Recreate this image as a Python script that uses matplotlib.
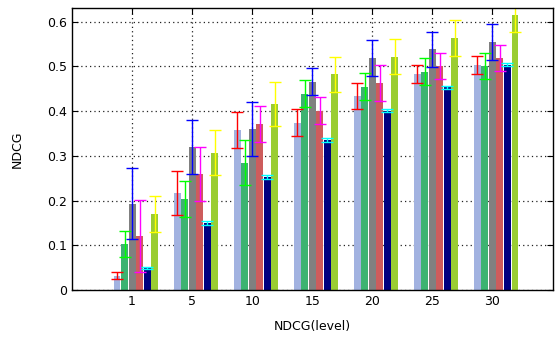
import numpy as np
import matplotlib
matplotlib.use('Agg')
import matplotlib.pyplot as plt

# NDCG at each cut-off level, six methods
levels = ['1', '5', '10', '15', '20', '25', '30']

ndcg_a = [0.032, 0.217, 0.358, 0.374, 0.434, 0.484, 0.504]
ndcg_b = [0.103, 0.204, 0.285, 0.439, 0.455, 0.488, 0.501]
ndcg_c = [0.193, 0.320, 0.360, 0.466, 0.519, 0.538, 0.555]
ndcg_d = [0.121, 0.260, 0.372, 0.401, 0.463, 0.501, 0.519]
ndcg_e = [0.049, 0.150, 0.253, 0.335, 0.401, 0.453, 0.504]
ndcg_f = [0.170, 0.307, 0.416, 0.482, 0.522, 0.564, 0.616]

err_a = [0.008, 0.050, 0.040, 0.030, 0.030, 0.020, 0.020]
err_b = [0.030, 0.040, 0.050, 0.030, 0.030, 0.030, 0.030]
err_c = [0.080, 0.060, 0.060, 0.030, 0.040, 0.040, 0.040]
err_d = [0.080, 0.060, 0.040, 0.030, 0.040, 0.030, 0.030]
err_e = [0.002, 0.005, 0.005, 0.005, 0.004, 0.004, 0.004]
err_f = [0.040, 0.050, 0.050, 0.040, 0.040, 0.040, 0.040]

series = [ndcg_a, ndcg_b, ndcg_c, ndcg_d, ndcg_e, ndcg_f]
errors = [err_a, err_b, err_c, err_d, err_e, err_f]
bar_colors = ['#a2b2e0', '#3cb371', '#808080', '#cd5c5c', '#000080', '#9acd32']
err_colors = ['#ff0000', '#00ff00', '#0000ff', '#ff00ff', '#00ffff', '#ffff00']

plt.rcParams['font.family'] = 'DejaVu Sans'
fig = plt.figure(figsize=(5.55, 3.4), dpi=100)
ax = fig.add_axes([0.1297, 0.147, 0.8658, 0.8286])

x = np.arange(len(levels))
slot = 1.0 / 8
for i, (vals, errs) in enumerate(zip(series, errors)):
    pos = x + (i - 2) * slot
    ax.bar(pos, vals, width=slot * 0.92, color=bar_colors[i], zorder=2)
    ax.errorbar(pos, vals, yerr=errs, fmt='none', ecolor=err_colors[i],
                elinewidth=1.0, capsize=4.5, capthick=1.0, zorder=3)

ax.set_xlim(-1, 7)
ax.set_ylim(0, 0.63)
ax.set_xticks(x)
ax.set_xticklabels(levels)
yt = [0, 0.1, 0.2, 0.3, 0.4, 0.5, 0.6]
ax.set_yticks(yt)
ax.set_yticklabels(['0', '0.1', '0.2', '0.3', '0.4', '0.5', '0.6'])
ax.tick_params(direction='in', length=4, width=0.8, labelsize=9,
               top=True, right=True, colors='black')
ax.grid(True, ls=(0, (1, 2.5)), lw=0.9, color='#222222', zorder=0)
ax.set_axisbelow(True)
for s in ax.spines.values():
    s.set_linewidth(1.0)
    s.set_zorder(4)

ax.set_xlabel('NDCG(level)', fontsize=9, labelpad=9)
ax.set_ylabel('NDCG', fontsize=9, labelpad=17)

fig.savefig('out.png', dpi=100)
